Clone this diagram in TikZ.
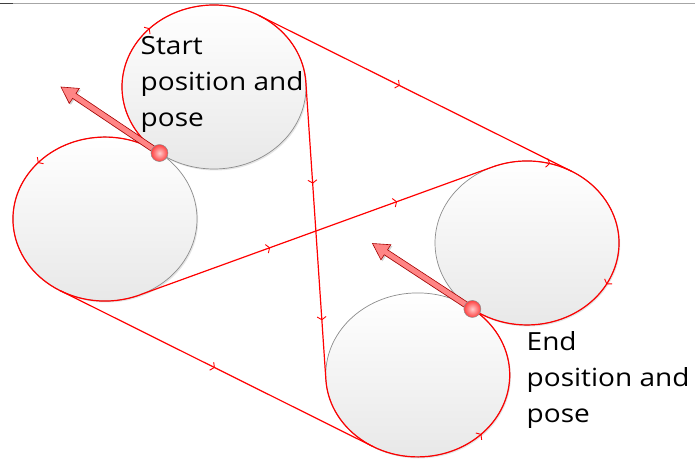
\documentclass[tikz,border=0pt]{standalone}
\usepackage{fontspec}
\usepackage{graphicx}
\newfontfamily\labelfont{Open Sans}
\usetikzlibrary{calc,decorations.markings,arrows.meta,shadows}
\tikzset{
  wheel/.style={draw=black!45, line width=0.7pt, top color=white, bottom color=black!9,
    drop shadow={shadow xshift=1.2pt, shadow yshift=-1.5pt, opacity=0.2}},
  route/.style={draw=red, line width=1.2pt},
  flowmark/.style={postaction={decorate, decoration={markings,
      mark=at position #1 with {\arrow[red, line width=0.9pt]{Straight Barb[length=3pt,width=9pt]}}}}},
  posearrow/.style={fill=red!48, draw=red!65!black, line width=0.6pt, line join=miter,
    drop shadow={shadow xshift=1.5pt, shadow yshift=-1.5pt, opacity=0.35}},
  posedot/.style={draw=black!45, line width=0.5pt, inner color=red!20, outer color=red!75},
  lbl/.style={font=\labelfont\fontsize{25}{36}\selectfont, inner sep=0pt, anchor=base west, text=black}
}
\begin{document}
\begin{tikzpicture}[x=1pt,y=1pt]
\useasboundingbox (0,0) rectangle (695,-462);
\fill[white] (0,0) rectangle (695,-462);
\draw[black!35, line width=1pt] (0,-4) -- (695,-4);
\draw[black!75, line width=1pt] (0,-4) -- (13,-4);
\begin{scope}[yscale=0.891304]
  \coordinate (T) at (214,-97.61);
  \coordinate (L) at (105,-245.71);
  \coordinate (R) at (527,-272.63);
  \coordinate (B) at (417.72,-420.66);
  \path[wheel] (T) circle[radius=92pt];
  \path[wheel] (L) circle[radius=92pt];
  \path[wheel] (R) circle[radius=92pt];
  \path[wheel] (B) circle[radius=92pt];
  % contact and tangent points
  \path (T) ++(233.65:92pt) coordinate (S);
  \path (R) ++(233.56:92pt) coordinate (E);
  \path (T) ++(60.79:92pt) coordinate (t1);
  \path (R) ++(60.79:92pt) coordinate (r1);
  \path (T) ++(3.44:92pt) coordinate (t2);
  \path (B) ++(183.44:92pt) coordinate (b2);
  \path (L) ++(240.78:92pt) coordinate (l3);
  \path (B) ++(240.78:92pt) coordinate (b3);
  \path (L) ++(292.14:92pt) coordinate (l4);
  \path (R) ++(112.14:92pt) coordinate (r4);
  % arcs
  \draw[route, flowmark=0.42] (S) arc[start angle=233.65, end angle=3.44, radius=92pt];
  \draw[route, flowmark=0.358] (S) arc[start angle=53.65, end angle=292.14, radius=92pt];
  \draw[route, flowmark=0.16, flowmark=0.589] (r4) arc[start angle=112.14, end angle=-126.44, radius=92pt];
  \draw[route, flowmark=0.578] (b2) arc[start angle=183.44, end angle=413.56, radius=92pt];
  % straight segments
  \draw[route, flowmark=0.45] (t1) -- (r1);
  \draw[route, flowmark=0.341, flowmark=0.80] (t2) -- (b2);
  \draw[route, flowmark=0.37, flowmark=0.73] (l4) -- (r4);
  \draw[route, flowmark=0.495] (l3) -- (b3);
\end{scope}
% pose arrows
\coordinate (stip) at (61,-87);
\coordinate (etip) at (372.5,-243.5);
\coordinate (sh) at ($(stip)!16pt!(S)$);
\coordinate (eh) at ($(etip)!16pt!(E)$);
\path[posearrow] ($(S)!3pt!90:(stip)$) -- ($(sh)!3pt!90:(stip)$) -- ($(sh)!9pt!90:(stip)$) -- (stip)
  -- ($(sh)!9pt!-90:(stip)$) -- ($(sh)!3pt!-90:(stip)$) -- ($(S)!3pt!-90:(stip)$) -- cycle;
\path[posearrow] ($(E)!3pt!90:(etip)$) -- ($(eh)!3pt!90:(etip)$) -- ($(eh)!9pt!90:(etip)$) -- (etip)
  -- ($(eh)!9pt!-90:(etip)$) -- ($(eh)!3pt!-90:(etip)$) -- ($(E)!3pt!-90:(etip)$) -- cycle;
\path[posedot] (S) circle[radius=8.5pt];
\path[posedot] (E) circle[radius=8.5pt];
% labels
\node[lbl] (startlbl) at (140.5,-55) {\scalebox{1.12}[1]{\begin{tabular}[t]{@{}l@{}}Start\\position and\\pose\end{tabular}}};
\node[lbl] (endlbl) at (526.5,-350) {\scalebox{1.12}[1]{\begin{tabular}[t]{@{}l@{}}End\\position and\\pose\end{tabular}}};
\end{tikzpicture}
\end{document}
